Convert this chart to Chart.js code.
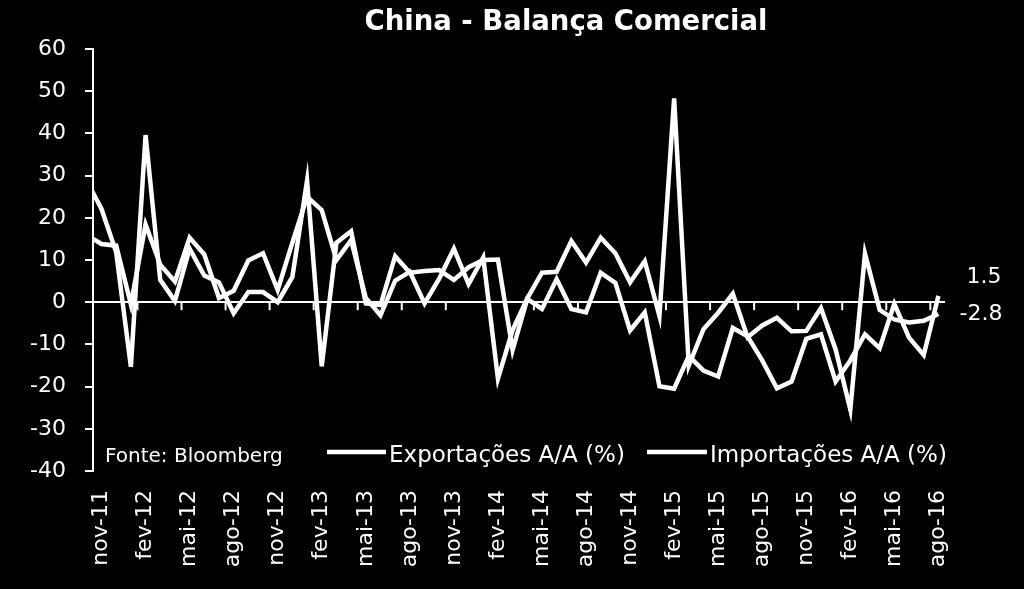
<!DOCTYPE html>
<html>
<head>
<meta charset="utf-8">
<script src="https://cdn.jsdelivr.net/npm/chart.js@4"></script>
<style>
  html, body { margin: 0; padding: 0; background: #000; }
  #wrap { width: 1024px; height: 589px; }
</style>
</head>
<body>
<div id="wrap"><canvas id="chart" width="1024" height="589"></canvas></div>
<script>
// monthly data, out-11 .. ago-16
const months = [
  'out-11', 'nov-11', 'dez-11',
  'jan-12', 'fev-12', 'mar-12', 'abr-12', 'mai-12', 'jun-12', 'jul-12', 'ago-12', 'set-12', 'out-12', 'nov-12', 'dez-12',
  'jan-13', 'fev-13', 'mar-13', 'abr-13', 'mai-13', 'jun-13', 'jul-13', 'ago-13', 'set-13', 'out-13', 'nov-13', 'dez-13',
  'jan-14', 'fev-14', 'mar-14', 'abr-14', 'mai-14', 'jun-14', 'jul-14', 'ago-14', 'set-14', 'out-14', 'nov-14', 'dez-14',
  'jan-15', 'fev-15', 'mar-15', 'abr-15', 'mai-15', 'jun-15', 'jul-15', 'ago-15', 'set-15', 'out-15', 'nov-15', 'dez-15',
  'jan-16', 'fev-16', 'mar-16', 'abr-16', 'mai-16', 'jun-16', 'jul-16', 'ago-16'
];

const exportacoes = [
  15.9, 13.8, 13.4,
  -0.5, 18.4, 8.9, 4.9, 15.3, 11.3, 1.0, 2.7, 9.9, 11.6, 2.9, 14.1,
  25.0, 21.8, 10.0, 14.7, 1.0, -3.1, 5.1, 7.2, -0.3, 5.6, 12.7, 4.3,
  10.6, -18.1, -6.6, 0.9, 7.0, 7.2, 14.5, 9.4, 15.3, 11.6, 4.7, 9.7,
  -3.3, 48.3, -15.0, -6.4, -2.5, 2.0, -8.3, -5.5, -3.7, -6.9, -6.8, -1.4,
  -11.2, -25.4, 11.5, -1.8, -4.1, -4.8, -4.4, -2.8
];

const importacoes = [
  28.7, 22.1, 11.8,
  -15.3, 39.6, 5.3, 0.3, 12.7, 6.3, 4.7, -2.6, 2.4, 2.4, 0.0, 6.0,
  28.8, -15.2, 14.1, 16.8, -0.3, -0.7, 10.9, 7.0, 7.4, 7.6, 5.3, 8.3,
  10.0, 10.1, -11.3, 0.8, -1.6, 5.5, -1.6, -2.4, 7.0, 4.6, -6.7, -2.4,
  -19.9, -20.5, -12.7, -16.2, -17.6, -6.1, -8.1, -13.8, -20.4, -18.8, -8.7, -7.6,
  -18.8, -13.8, -7.6, -10.9, -0.4, -8.4, -12.5, 1.5
];

// axis labels every 3 months starting at nov-11
const labelIdx = months.map((m, i) => i).filter(i => i % 3 === 1);
const yMin = -40, yMax = 60, yStep = 10;

const FONT = 'DejaVu Sans';
const WHITE = '#ffffff';

const decor = {
  id: 'decor',
  beforeDraw(chart) {
    const c = chart.ctx;
    c.save();
    c.fillStyle = '#000';
    c.fillRect(0, 0, chart.width, chart.height);
    c.restore();
  },
  afterDraw(chart) {
    const c = chart.ctx;
    const x = chart.scales.x, y = chart.scales.y;
    const y0 = y.getPixelForValue(0);
    c.save();

    // small tick marks on the zero line, every 3 months
    c.strokeStyle = WHITE;
    c.lineWidth = 2;
    for (let v = 3.45; v < x.max; v += 3) {
      const px = x.getPixelForValue(v);
      c.beginPath();
      c.moveTo(px, y0);
      c.lineTo(px, y0 + 8);
      c.stroke();
    }

    c.fillStyle = WHITE;

    // title
    c.font = 'bold 27.5px "' + FONT + '"';
    c.textAlign = 'center';
    c.textBaseline = 'alphabetic';
    c.fillText('China - Balança Comercial', 566, 30);

    // source
    c.font = '20px "' + FONT + '"';
    c.textAlign = 'left';
    c.fillText('Fonte: Bloomberg', 105, 462);

    // legend
    c.font = '23px "' + FONT + '"';
    c.lineWidth = 4.5;
    c.beginPath(); c.moveTo(327, 452); c.lineTo(386, 452); c.stroke();
    c.fillText('Exportações A/A (%)', 389, 462);
    c.beginPath(); c.moveTo(647, 452); c.lineTo(707, 452); c.stroke();
    c.fillText('Importações A/A (%)', 710, 462);

    // last values
    const last = months.length - 1;
    const pe = chart.getDatasetMeta(0).data[last];
    const pi = chart.getDatasetMeta(1).data[last];
    c.font = '22px "' + FONT + '"';
    c.textAlign = 'right';
    c.textBaseline = 'middle';
    c.fillText(importacoes[last].toFixed(1), pi.x + 63, pi.y - 19);
    c.fillText(exportacoes[last].toFixed(1), pe.x + 64, pe.y);
    c.restore();
  }
};

new Chart(document.getElementById('chart'), {
  type: 'line',
  data: {
    datasets: [
      {
        label: 'Exportações A/A (%)',
        data: exportacoes.map((v, i) => ({ x: i, y: v })),
        borderColor: WHITE,
        borderWidth: 4.5,
        pointRadius: 0,
        tension: 0
      },
      {
        label: 'Importações A/A (%)',
        data: importacoes.map((v, i) => ({ x: i, y: v })),
        borderColor: WHITE,
        borderWidth: 4.5,
        pointRadius: 0,
        tension: 0
      }
    ]
  },
  options: {
    responsive: false,
    animation: false,
    layout: { padding: { top: 49, right: 79, bottom: 0, left: 0 } },
    plugins: {
      legend: { display: false },
      title: { display: false },
      tooltip: { enabled: false }
    },
    scales: {
      x: {
        type: 'linear',
        min: 0.42,
        max: 58.45,
        grid: { display: false, drawTicks: false },
        border: { display: false },
        ticks: {
          color: WHITE,
          font: { family: FONT, size: 22 },
          minRotation: 90,
          maxRotation: 90,
          autoSkip: false,
          padding: 19,
          callback: v => months[v] || ''
        },
        afterBuildTicks: s => { s.ticks = labelIdx.map(i => ({ value: i })); },
        afterFit: s => { s.height = 118; }
      },
      y: {
        min: yMin,
        max: yMax,
        ticks: {
          stepSize: yStep,
          color: WHITE,
          font: { family: FONT, size: 22 },
          padding: 19
        },
        grid: {
          color: c => (c.tick && c.tick.value === 0 ? WHITE : 'rgba(0,0,0,0)'),
          lineWidth: 2,
          tickColor: WHITE,
          tickWidth: 2,
          tickLength: 8
        },
        border: { color: WHITE, width: 2 },
        afterFit: s => { s.width = 93; }
      }
    }
  },
  plugins: [decor]
});
</script>
</body>
</html>
